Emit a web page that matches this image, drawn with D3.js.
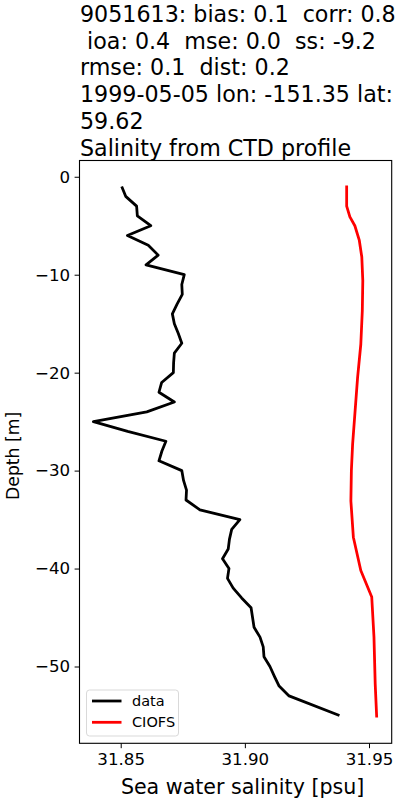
<!DOCTYPE html>
<html>
<head>
<meta charset="utf-8">
<script src="https://cdn.jsdelivr.net/npm/d3@7"></script>
<style>
  html, body { margin: 0; padding: 0; background: #fff; }
  svg { display: block; font-family: "DejaVu Sans", sans-serif; }
</style>
</head>
<body>
<svg id="chart" width="400" height="800"></svg>
<script>
// ---- data ----
const titleLines = [
  "9051613: bias: 0.1  corr: 0.8",
  " ioa: 0.4  mse: 0.0  ss: -9.2",
  "rmse: 0.1  dist: 0.2",
  "1999-05-05 lon: -151.35 lat:",
  "59.62",
  "Salinity from CTD profile"
];
const dataDepth = [-1,-2,-3,-4,-5,-6,-7,-8,-9,-10,-11,-12,-13,-14,-15,-16,-17,-18,-19,-20,
  -21,-22,-23,-24,-25,-26,-27,-28,-29,-30,-31,-32,-33,-34,-35,-36,-37,-38,-39,-40,
  -41,-42,-43,-44,-45,-46,-47,-48,-49,-50,-51,-52,-53,-55];
const dataSal = [31.8504,31.8520,31.8564,31.8567,31.8621,31.8527,31.8611,31.8651,31.8602,31.8756,
  31.8746,31.8748,31.8727,31.8708,31.8716,31.8732,31.8746,31.8716,31.8713,31.8712,
  31.8665,31.8654,31.8716,31.8605,31.8390,31.8528,31.8682,31.8666,31.8654,31.8746,
  31.8753,31.8765,31.8763,31.8819,31.8980,31.8947,31.8938,31.8933,31.8910,31.8936,
  31.8930,31.8953,31.8987,31.9025,31.9031,31.9037,31.9061,31.9074,31.9077,31.9101,
  31.9119,31.9138,31.9178,31.9381];
const modelDepth = [-0.9,-3.0,-4.1,-5.0,-6.5,-8.2,-10.6,-13.7,-17.1,-20.5,-23.9,-27.3,-30,-33.1,-36.8,-40.2,-42.9,-47,-51.8,-55.2];
const modelSal = [31.9410,31.9410,31.9423,31.9443,31.9461,31.9471,31.9475,31.9473,31.9467,31.9454,
  31.9444,31.9434,31.9429,31.9427,31.9437,31.9467,31.9511,31.9520,31.9525,31.9531];
const xTicks = [31.85, 31.90, 31.95];
const yTicks = [0, -10, -20, -30, -40, -50];
const seriesNames = ["data", "CIOFS"];
const seriesColors = ["#000000", "#ff0000"];

// ---- layout ----
const svg = d3.select("#chart");
const L = 79.5, R = 391.7, T = 160.5, B = 743.3;
const x = d3.scaleLinear().domain([31.8334, 31.95914]).range([L, R]);
const y = d3.scaleLinear().domain([1.66, -57.84]).range([T, B]);

// title
const title = svg.append("text").attr("x", 80).attr("y", 22)
  .attr("font-size", 22.2).attr("fill", "#000").attr("xml:space", "preserve")
  .style("white-space", "pre");
titleLines.forEach((t, i) => {
  title.append("tspan").attr("x", 80).attr("y", 22 + i * 26.7).text(t);
});

// lines
const line = d3.line().x(d => x(d[0])).y(d => y(d[1]));
const dataPts = dataSal.map((s, i) => [s, dataDepth[i]]);
const modelPts = modelSal.map((s, i) => [s, modelDepth[i]]);
svg.append("clipPath").attr("id", "clip").append("rect")
  .attr("x", L).attr("y", T).attr("width", R - L).attr("height", B - T);
const g = svg.append("g").attr("clip-path", "url(#clip)");
g.append("path").datum(dataPts).attr("d", line).attr("fill", "none")
  .attr("stroke", seriesColors[0]).attr("stroke-width", 2.78).attr("stroke-linejoin", "round");
g.append("path").datum(modelPts).attr("d", line).attr("fill", "none")
  .attr("stroke", seriesColors[1]).attr("stroke-width", 2.78).attr("stroke-linejoin", "round");

// axes
const xAxis = svg.append("g").attr("transform", `translate(0,${B})`)
  .call(d3.axisBottom(x).tickValues(xTicks).tickFormat(d3.format(".2f")).tickSize(4.9).tickPadding(4.5));
const yAxis = svg.append("g").attr("transform", `translate(${L},0)`)
  .call(d3.axisLeft(y).tickValues(yTicks).tickFormat(d => d < 0 ? "\u2212" + Math.abs(d) : d).tickSize(4.9).tickPadding(4.5));
[xAxis, yAxis].forEach(a => {
  a.select(".domain").remove();
  a.selectAll("text").attr("font-size", 16.67).attr("font-family", "DejaVu Sans").attr("fill", "#000");
  a.selectAll("line").attr("stroke", "#000").attr("stroke-width", 1);
});

// frame
svg.append("rect").attr("x", L).attr("y", T).attr("width", R - L).attr("height", B - T)
  .attr("fill", "none").attr("stroke", "#000").attr("stroke-width", 1.1);

// axis labels
svg.append("text").attr("x", (L + R) / 2 + 7).attr("y", 794).attr("text-anchor", "middle")
  .attr("font-size", 20.6).text("Sea water salinity [psu]");
svg.append("text").attr("transform", `translate(18.5,${(T + B) / 2 + 4}) rotate(-90)`)
  .attr("text-anchor", "middle").attr("font-size", 17.2).text("Depth [m]");

// legend
const lg = svg.append("g");
lg.append("rect").attr("x", 86.5).attr("y", 690).attr("width", 92).attr("height", 46)
  .attr("rx", 3).attr("fill", "#fff").attr("fill-opacity", 0.8).attr("stroke", "#d9d9d9");
seriesNames.forEach((n, i) => {
  const yy = 701 + i * 21.3;
  lg.append("line").attr("x1", 92).attr("x2", 121.5).attr("y1", yy).attr("y2", yy)
    .attr("stroke", seriesColors[i]).attr("stroke-width", 2.78);
  lg.append("text").attr("x", 132).attr("y", yy + 5).attr("font-size", 14.5).text(n);
});
</script>
</body>
</html>
